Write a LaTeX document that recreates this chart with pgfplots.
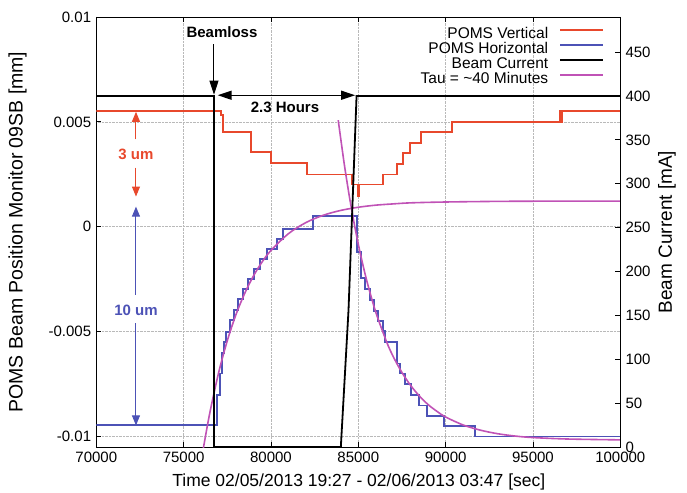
\documentclass[border=0pt]{standalone}
\usepackage{fontspec}
\setmainfont{Liberation Sans}
\usepackage{pgfplots}
\pgfplotsset{compat=1.18}
\usetikzlibrary{arrows.meta}

\definecolor{pred}{RGB}{232,72,44}
\definecolor{pblue}{RGB}{76,82,182}
\definecolor{pmag}{RGB}{192,82,182}

\pgfplotsset{
  common/.style={
    scale only axis, width=524bp, height=430bp,
    at={(0,0)}, anchor=south west,
    xmin=70000, xmax=100000,
    scaled ticks=false,
    tick align=inside,
    major tick length=5bp,
    tick style={black, line width=0.8bp},
    axis line style={line width=0.9bp},
  },
}

\begin{document}
\fontsize{15bp}{17bp}\selectfont
\begin{tikzpicture}
\useasboundingbox (-96.3bp,-46bp) rectangle (590.7bp,447bp);

% left axis: POMS positions
\begin{axis}[common,
    ymin=-0.0105, ymax=0.01,
    xtick={70000,75000,80000,85000,90000,95000,100000},
    xticklabels={70000,75000,80000,85000,90000,95000,100000},
    ytick={-0.01,-0.005,0,0.005,0.01},
    yticklabels={-0.01,-0.005,0,0.005,0.01},
    xticklabel style={yshift=-2.5bp, inner sep=2bp},
    xtick pos=both, ytick pos=left,
    grid=major,
    major grid style={densely dotted, gray!55, line width=0.6bp},
    xlabel={Time 02/05/2013 19:27 - 02/06/2013 03:47 [sec]},
    ylabel={POMS Beam Position Monitor 09SB [mm]},
    every axis x label/.style={at={(axis description cs:0.501,-0.081)}, anchor=center,
      font=\fontsize{17.5bp}{19bp}\selectfont},
    every axis y label/.style={at={(axis description cs:-0.150,0.5)}, rotate=90, anchor=center,
      font=\fontsize{19.5bp}{21bp}\selectfont},
    legend style={at={(rel axis cs:0.975,0.981)}, anchor=north east,
      draw=none, fill=none, row sep=1bp, column sep=11bp,
      font=\fontsize{15.5bp}{17bp}\selectfont,
      nodes={inner sep=0bp, text height=11bp, text depth=3bp}},
    legend plot pos=right,
    legend cell align=right,
    legend image code/.code={\draw[#1] (0bp,4bp) -- (43bp,4bp);},
  ]

\addplot[const plot, pred, line width=1.8bp] coordinates {
  (70000,0.00552) (77121,0.00531) (77270,0.00451) (78838,0.00357)
  (79983,0.00305) (82078,0.00249) (84619,0.00201) (84997,0.00148)
  (85070,0.00201) (86393,0.00249) (87195,0.00301) (87573,0.00353)
  (87956,0.00400) (88569,0.00451) (90343,0.00501) (96542,0.00552)
  (96580,0.00501) (96640,0.00552) (100000,0.00552)
};
\addlegendentry{POMS Vertical}

\addplot[const plot, pblue, line width=1.8bp] coordinates {
  (70000,-0.00947) (76892,-0.00804) (77081,-0.00700) (77178,-0.00603)
  (77310,-0.00549) (77407,-0.00500) (77653,-0.00445) (77899,-0.00397)
  (78130,-0.00346) (78414,-0.00298) (78700,-0.00250) (79027,-0.00202)
  (79370,-0.00155) (79788,-0.00107) (80326,-0.00059) (80704,-0.00011)
  (82390,0.00053) (84905,-0.00120) (85134,-0.00245) (85380,-0.00298)
  (85667,-0.00349) (85896,-0.00400) (86142,-0.00448) (86430,-0.00496)
  (86525,-0.00549) (87195,-0.00652) (87384,-0.00700) (87670,-0.00748)
  (87996,-0.00804) (88489,-0.00852) (88947,-0.00903) (89903,-0.00951)
  (91677,-0.01000) (100000,-0.01000)
};
\addlegendentry{POMS Horizontal}

\addlegendimage{black, line width=1.8bp}
\addlegendentry{Beam Current}
\addlegendimage{pmag, line width=1.8bp}
\addlegendentry{Tau = \textasciitilde 40 Minutes}

\addplot[pmag, line width=1.6bp, smooth, forget plot] coordinates {
  (76000,-0.01121) (76135,-0.01053) (76500,-0.00887) (77000,-0.00697)
  (77500,-0.00543) (78000,-0.00418) (78500,-0.00317) (79000,-0.00234)
  (79500,-0.00167) (80000,-0.00113) (81000,-0.00033) (82000,0.00020)
  (83000,0.00055) (84000,0.00078) (85000,0.00093) (86000,0.00103)
  (87000,0.00109) (88000,0.00114) (90000,0.00118) (93000,0.00121)
  (96000,0.00122) (100000,0.00122)
};

\addplot[pmag, line width=1.6bp, smooth, forget plot] coordinates {
  (83850,0.00508) (84200,0.00297) (84500,0.00139) (84800,0.00000)
  (85100,-0.00122) (85500,-0.00262) (86000,-0.00407) (86622,-0.00549)
  (87000,-0.00619) (87500,-0.00695) (88000,-0.00757) (88500,-0.00807)
  (89000,-0.00848) (89500,-0.00880) (90000,-0.00907) (91000,-0.00945)
  (92000,-0.00970) (93000,-0.00987) (94000,-0.00998) (95000,-0.01005)
  (97000,-0.01012) (100000,-0.01016)
};

% annotations
\node[font=\bfseries] at (axis cs:77195,0.00928) {Beamloss};
\draw[-{Triangle[length=14bp,width=9bp]}, line width=1bp]
  (axis cs:76738,0.00871) -- (axis cs:76738,0.00630);
\draw[{Triangle[length=14bp,width=9bp]}-{Triangle[length=14bp,width=9bp]}, line width=1.4bp]
  (axis cs:76950,0.00627) -- (axis cs:84820,0.00627);
\node[font=\bfseries] at (axis cs:80800,0.00569) {2.3 Hours};

\draw[-{Triangle[length=10bp,width=8bp]}, pred, line width=1bp]
  (axis cs:72272,0.00416) -- (axis cs:72272,0.00548);
\node[font=\bfseries, text=pred] at (axis cs:72272,0.00344) {3 um};
\draw[-{Triangle[length=10bp,width=8bp]}, pred, line width=1bp]
  (axis cs:72272,0.00282) -- (axis cs:72272,0.00144);

\draw[-{Triangle[length=10bp,width=8bp]}, pblue, line width=1bp]
  (axis cs:72272,-0.00325) -- (axis cs:72272,0.00096);
\node[font=\bfseries, text=pblue] at (axis cs:72272,-0.00397) {10 um};
\draw[-{Triangle[length=10bp,width=8bp]}, pblue, line width=1bp]
  (axis cs:72272,-0.00459) -- (axis cs:72272,-0.00947);
\end{axis}

% right axis: beam current
\begin{axis}[common,
    ymin=0, ymax=490,
    axis y line*=right, axis x line=none,
    tick align=inside,
    ytick={0,50,100,150,200,250,300,350,400,450},
    yticklabels={0,50,100,150,200,250,300,350,400,450},
    yticklabel style={xshift=3bp, inner sep=2bp},
    ylabel={Beam Current [mA]},
    every axis y label/.style={at={(axis description cs:1.089,0.5)}, rotate=90, anchor=center,
      font=\fontsize{19bp}{21bp}\selectfont},
  ]
\addplot[black, line width=1.8bp] coordinates {
  (70000,400) (76738,400) (76738,0) (84000,0) (84440,156) (84900,400) (100000,400)
};
\end{axis}
\end{tikzpicture}
\end{document}
